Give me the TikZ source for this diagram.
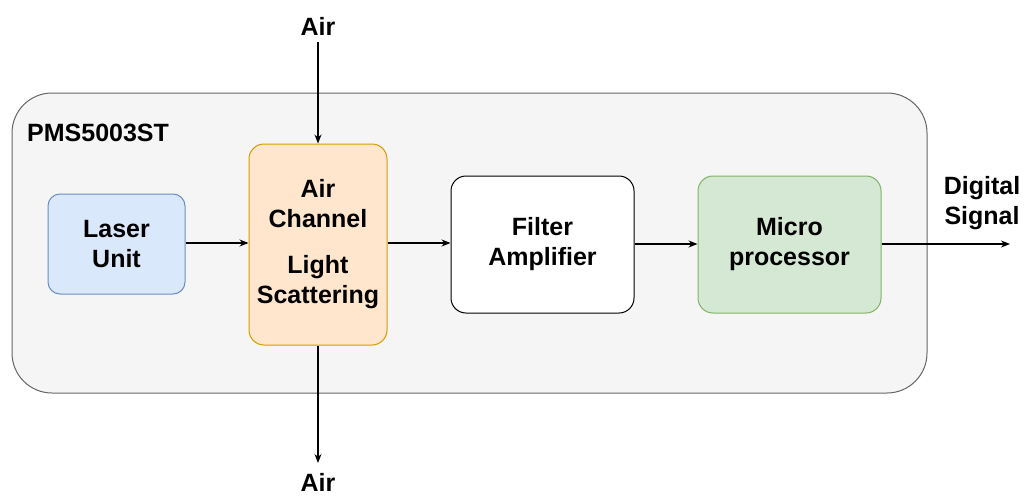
\documentclass[tikz,border=0pt]{standalone}
\usepackage{fontspec}
\setmainfont{Liberation Sans}
\usetikzlibrary{arrows.meta}
\definecolor{outerfill}{HTML}{F5F5F5}
\definecolor{outerline}{HTML}{666666}
\definecolor{bluefill}{HTML}{DAE8FC}
\definecolor{blueline}{HTML}{6C8EBF}
\definecolor{orangefill}{HTML}{FFE6CC}
\definecolor{orangeline}{HTML}{D79B00}
\definecolor{greenfill}{HTML}{D5E8D4}
\definecolor{greenline}{HTML}{82B366}
\tikzset{
  blk/.style={draw, rounded corners=15, line width=1pt, align=center, inner sep=0pt,
    font=\fontsize{25}{30}\selectfont\bfseries},
  lbl/.style={align=center, inner sep=0pt, font=\fontsize{25}{30}\selectfont\bfseries},
  conn/.style={line width=1.1pt, -{Stealth[length=9pt,width=7pt]}}
}
\begin{document}
\begin{tikzpicture}[x=1pt,y=-1pt]
\useasboundingbox (0,0) rectangle (1024,495);
\node[draw=outerline, fill=outerfill, rounded corners=40, line width=1pt,
  minimum width=915pt, minimum height=300pt, inner sep=0pt] (outer) at (469.5,243) {};
\node[lbl, anchor=west] (title) at (27,133) {PMS5003ST};
\node[blk, draw=blueline, fill=bluefill, rounded corners=12, minimum width=137pt, minimum height=100pt] (laser) at (116.5,244) {Laser\\Unit};
\node[blk, draw=orangeline, fill=orangefill, minimum width=138pt, minimum height=201pt] (chan) at (318,244.5) {Air\\Channel\\[16pt]Light\\Scattering};
\node[blk, draw=black, fill=white, minimum width=183pt, minimum height=137pt] (filt) at (542.5,244.5) {Filter\\Amplifier};
\node[blk, draw=greenline, fill=greenfill, minimum width=183pt, minimum height=137pt] (micro) at (789.5,244.5) {Micro\\processor};
\node[lbl] (airin) at (318,26) {Air};
\node[lbl] (airout) at (318,482) {Air};
\node[lbl] (dig) at (982,203) {Digital\\Signal};
\coordinate (airtop) at (318,42);
\coordinate (airbot) at (318,463);
\coordinate (sigend) at (1010,244);
\draw[conn] (laser.east |- 0,243) -- (chan.west |- 0,243);
\draw[conn] (chan.east |- 0,243) -- (filt.west |- 0,243);
\draw[conn] (filt.east |- 0,244) -- (micro.west |- 0,244);
\draw[conn] (micro.east |- 0,244) -- (sigend);
\draw[conn] (airtop) -- (chan.north);
\draw[conn] (chan.south) -- (airbot);
\end{tikzpicture}
\end{document}
